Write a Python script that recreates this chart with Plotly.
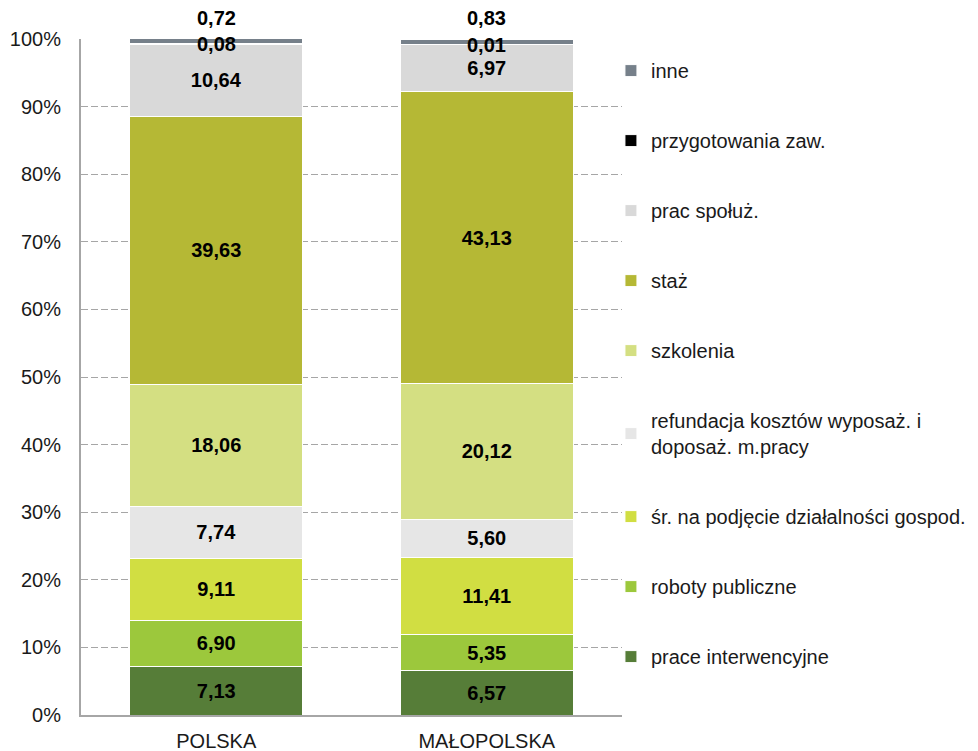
import plotly.graph_objects as go

# categories on the x axis
regions = ["POLSKA", "MAŁOPOLSKA"]

# series, bottom of the stack first (values in %)
series_names = [
    "prace interwencyjne",
    "roboty publiczne",
    "śr. na podjęcie działalności gospod.",
    "refundacja kosztów wyposaż. i<br>doposaż. m.pracy",
    "szkolenia",
    "staż",
    "prac społuż.",
    "przygotowania zaw.",
    "inne",
]
prace_interwencyjne = [7.13, 6.57]
roboty_publiczne = [6.90, 5.35]
srodki_dzialalnosc = [9.11, 11.41]
refundacja = [7.74, 5.60]
szkolenia = [18.06, 20.12]
staz = [39.63, 43.13]
prac_spoluz = [10.64, 6.97]
przygotowania = [0.08, 0.01]
inne = [0.72, 0.83]

y_ticks = [0, 10, 20, 30, 40, 50, 60, 70, 80, 90, 100]
y_tick_text = ["0%", "10%", "20%", "30%", "40%", "50%", "60%", "70%", "80%", "90%", "100%"]

series = [prace_interwencyjne, roboty_publiczne, srodki_dzialalnosc, refundacja,
          szkolenia, staz, prac_spoluz, przygotowania, inne]
colors = ["#567D38", "#9CC83C", "#D1DE42", "#E6E6E6", "#D4DF82",
          "#B5B835", "#D9D9D9", "#000000", "#76808A"]

FONT = "Liberation Sans, Arial, sans-serif"
LABEL_FONT = dict(family=FONT, size=20, color="black", weight="bold")
TEXT_FONT = dict(family=FONT, size=20, color="#1a1a1a")

fig = go.Figure()
n = len(series)
for i, (name, vals, col) in enumerate(zip(series_names, series, colors)):
    small = name in ("przygotowania zaw.", "inne")
    fig.add_trace(go.Bar(
        x=regions, y=vals, name=name,
        marker=dict(color=col, line=dict(color="white", width=1)),
        texttemplate=None if small else "%{y:.2f}",
        textposition="none" if small else "inside",
        insidetextanchor="middle",
        textangle=0,
        textfont=LABEL_FONT,
        legendgroup=str(i),
        legendrank=100 * (n - i),   # top of the stack first in the legend
        hoverinfo="skip",
    ))

# labels for the two thin top segments
for j, reg in enumerate(regions):
    below = sum(s[j] for s in series[:7])
    fig.add_annotation(x=reg, y=below + przygotowania[j] / 2,
                       text=f"{przygotowania[j]:.2f}".replace(".", ","),
                       showarrow=False, yanchor="middle", font=LABEL_FONT)
    top = min(below + przygotowania[j] + inne[j], 100)
    fig.add_annotation(x=reg, y=top, yshift=8,
                       text=f"{inne[j]:.2f}".replace(".", ","),
                       showarrow=False, yanchor="bottom", font=LABEL_FONT)

# page body has an 8px margin, so the figure is 8px smaller than the window
fig.update_layout(
    template="none",
    barmode="stack",
    bargap=0.36,
    separators=", ",
    width=970, height=743,
    margin=dict(l=73, r=356, t=31, b=36, autoexpand=False),
    paper_bgcolor="white", plot_bgcolor="white",
    font=TEXT_FONT,
    uniformtext=dict(minsize=8, mode="show"),
    legend=dict(
        traceorder="grouped", tracegroupgap=41,
        xref="container", yref="container",
        x=0.6216, xanchor="left", y=0.942, yanchor="top",
        maxheight=700,
        font=TEXT_FONT,
        bgcolor="rgba(0,0,0,0)", borderwidth=0,
        itemwidth=30,
    ),
    showlegend=True,
)
fig.update_xaxes(
    showline=True, linecolor="#A6A6A6", linewidth=2,
    ticks="", showgrid=False, ticklabelstandoff=7, automargin=False,
    tickfont=TEXT_FONT,
)
fig.update_yaxes(
    range=[0, 100], tickvals=y_ticks, ticktext=y_tick_text,
    showline=True, linecolor="#A6A6A6", linewidth=2,
    showgrid=True, gridcolor="#A6A6A6", griddash="7px,3px", gridwidth=1,
    zeroline=False, ticks="", ticklabelstandoff=14, automargin=False,
    tickfont=TEXT_FONT,
)

fig.write_html("out.html")
